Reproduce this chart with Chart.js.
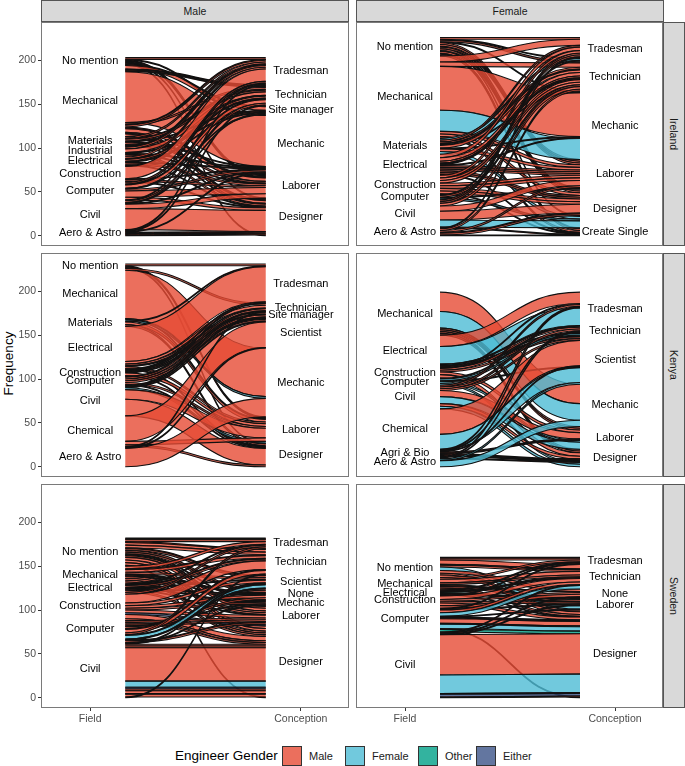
<!DOCTYPE html>
<html>
<head>
<meta charset="utf-8">
<script src="https://cdn.jsdelivr.net/npm/chart.js@4"></script>
<style>
  html, body { margin:0; padding:0; background:#fff; }
  body { width:685px; height:766px; position:relative; overflow:hidden; font-family:"Liberation Sans", Arial, sans-serif; }
  canvas { position:absolute; }
  .strip { position:absolute; box-sizing:border-box; background:#d9d9d9; border:1px solid #555; color:#1a1a1a; font-size:10.5px; display:flex; align-items:center; justify-content:center; }
  .strip.side { writing-mode:vertical-rl; }
  #ytitle { position:absolute; left:-42px; top:356px; width:100px; text-align:center; font-size:13.5px; transform:rotate(-90deg); color:#000; }
  .leg { position:absolute; top:749px; font-size:11px; color:#1a1a1a; line-height:14px; }
  .key { position:absolute; top:746px; width:20px; height:20px; box-sizing:border-box; border:1px solid #333; }
</style>
</head>
<body>
<div class="strip" style="left:41px;top:0;width:308px;height:22px">Male</div>
<div class="strip" style="left:356px;top:0;width:308px;height:22px">Female</div>
<div class="strip side" style="left:663px;top:22px;width:22px;height:224px">Ireland</div>
<div class="strip side" style="left:663px;top:253px;width:22px;height:224px">Kenya</div>
<div class="strip side" style="left:663px;top:484px;width:22px;height:224px">Sweden</div>
<div id="ytitle">Frequency</div>
<div class="leg" style="left:175px;top:748px;font-size:13.5px;color:#000;line-height:16px">Engineer Gender</div>
<div class="key" style="left:282px;background:rgba(230,75,53,.8)"></div><div class="leg" style="left:309px">Male</div>
<div class="key" style="left:345px;background:rgba(77,187,213,.8)"></div><div class="leg" style="left:372px">Female</div>
<div class="key" style="left:418px;background:rgba(0,160,135,.8)"></div><div class="leg" style="left:445px">Other</div>
<div class="key" style="left:476px;background:rgba(60,84,136,.8)"></div><div class="leg" style="left:503px">Either</div>

<script>
const axisNames = ['Field', 'Conception'];
const freqTicks = [0, 50, 100, 150, 200];
// gender index used in the flows: 0 male, 1 female, 2 other, 3 either
const genderColors = ['rgba(230,75,53,.8)', 'rgba(77,187,213,.8)', 'rgba(0,160,135,.8)', 'rgba(60,84,136,.8)'];

// flows are [field, conception, gender, frequency, optional order on the right]
// listed top to bottom as they leave the Field axis
const ieMaleFields = ['No mention','Mechanical','Materials','Industrial','Electrical','Construction','Computer','Civil','Aero & Astro'];
const ieMaleConceptions = ['Tradesman','Technician','Site manager','Mechanic','Laborer','Designer'];
const ieMaleFlows = [
  [0,0,0,2],[0,3,0,1],[0,4,0,1],[0,4,0,1],[0,4,0,1],[0,5,0,1],[0,5,0,1,99],
  [1,2,0,1],[1,2,0,4],[1,1,0,1],[1,1,0,1],[1,1,0,1],[1,3,0,58],[1,1,0,2],[1,0,0,1],[1,0,0,2],[1,4,0,1],[1,4,0,1],[1,4,0,4],[1,5,0,1],[1,5,0,1],[1,5,0,3],
  [2,0,0,2],[2,1,0,1],[2,1,0,2],[2,2,0,1],[2,3,0,1],[2,4,0,2],[2,5,0,1],
  [3,0,0,1],[3,0,0,1],[3,0,0,2],[3,1,0,4],[3,2,0,1],[3,3,0,1],[3,4,0,1],[3,5,0,2],
  [4,0,0,2],[4,1,0,1],[4,1,0,2],[4,2,0,1],[4,3,0,1],[4,4,0,2],[4,5,0,1],
  [5,1,0,1],[5,0,0,14],[5,3,0,1],[5,4,0,2],[5,5,0,1],
  [6,0,0,2],[6,1,0,1],[6,1,0,4],[6,2,1,1],[6,3,0,2],[6,4,0,7],[6,5,0,3],
  [7,0,0,1],[7,1,0,2],[7,2,0,1],[7,3,0,1],[7,4,0,5],[7,5,0,24],
  [8,0,0,1],[8,1,0,1],[8,3,0,1],[8,5,0,1],[8,5,0,1],[8,5,0,1],[8,5,0,1]
];

const ieFemaleFields = ['No mention','Mechanical','Materials','Electrical','Construction','Computer','Civil','Aero & Astro'];
const ieFemaleConceptions = ['Tradesman','Technician','Mechanic','Laborer','Designer','Create Single'];
const ieFemaleFlows = [
  [0,0,0,2],[0,0,1,1],[0,1,0,2],[0,1,1,1],[0,3,0,2],[0,3,0,2],[0,3,1,1],[0,3,0,2],[0,4,0,2],[0,4,1,1],[0,4,0,2],[0,5,0,1],[0,5,0,2],
  [1,0,0,7],[1,1,0,5],[1,2,0,50],[1,2,1,24],[1,3,0,3],[1,4,0,3],[1,5,0,2],
  [2,0,1,2],[2,0,0,2],[2,1,0,2],[2,1,0,1],[2,1,1,1],[2,1,0,3],[2,2,0,1],[2,3,0,3],[2,4,1,3],
  [3,0,0,4],[3,1,0,4],[3,1,0,2],[3,1,0,1],[3,1,0,1],[3,2,0,1],[3,3,0,2],[3,3,0,2],[3,3,0,2],[3,4,0,2],[3,4,0,2],[3,5,0,1],
  [4,0,0,3],[4,1,0,3],[4,1,0,3],[4,3,0,3],[4,3,0,3],[4,4,0,3],[4,4,0,3],[4,5,0,1],
  [5,0,1,1],[5,1,0,2],[5,3,1,1],[5,4,1,2],
  [6,0,0,2],[6,0,0,2],[6,1,0,3],[6,3,0,6],[6,4,0,10],[6,4,1,8],[6,5,0,1],
  [7,0,0,1],[7,1,0,2],[7,3,0,2],[7,4,0,1],[7,4,0,2],[7,5,0,1]
];

const keMaleFields = ['No mention','Mechanical','Materials','Electrical','Construction','Computer','Civil','Chemical','Aero & Astro'];
const keMaleConceptions = ['Tradesman','Technician','Site manager','Scientist','Mechanic','Laborer','Designer'];
const keMaleFlows = [
  [0,0,0,2],[0,5,0,1],[0,5,0,1],[0,6,0,1],
  [1,1,0,2],[1,4,0,55,0],[1,5,0,1],
  [2,4,1,2,1],[2,0,0,1],[2,5,0,3],[2,6,0,2],
  [3,0,0,40],[3,1,0,3],[3,2,0,2],[3,3,0,1],[3,5,0,2],[3,6,0,1],
  [4,0,0,1],[4,1,0,1],[4,2,0,1],[4,3,0,1],[4,5,0,3],[4,6,0,1],
  [5,0,0,1],[5,1,0,2],[5,2,0,2],[5,3,0,2],[5,5,0,2],[5,6,0,1],
  [6,1,0,1],[6,2,0,1],[6,3,0,1],[6,5,1,2],[6,5,0,11],[6,6,0,19],
  [7,3,0,29],[7,5,0,4],[7,6,0,2],
  [8,1,0,1],[8,3,0,1],[8,4,0,21,2]
];

const keFemaleFields = ['Mechanical','Electrical','Construction','Computer','Civil','Chemical','Agri & Bio','Aero & Astro'];
const keFemaleConceptions = ['Tradesman','Technician','Scientist','Mechanic','Laborer','Designer'];
const keFemaleFlows = [
  [0,3,0,22],[0,3,1,19],[0,4,0,2],[0,4,0,2],[0,5,0,2],[0,5,0,2],
  [1,0,0,13],[1,0,1,20],[1,1,0,1],[1,1,1,1],[1,2,0,1],[1,2,0,1],
  [2,0,0,1],[2,1,0,2],[2,2,0,2],[2,4,0,3],[2,5,0,4],
  [3,0,1,1],[3,1,1,2],[3,2,1,1],[3,4,1,2],[3,5,1,2],
  [4,0,0,2],[4,1,0,2],[4,2,0,2],[4,4,0,7],[4,4,1,8],[4,5,0,3],[4,5,1,3],
  [5,2,0,29],[5,2,1,17],
  [6,0,0,1],[6,1,0,1],[6,2,0,1],[6,4,0,1],[6,4,0,1],[6,5,0,1],[6,5,0,1],[6,5,0,1],
  [7,0,0,1],[7,1,0,1],[7,5,0,1],[7,2,1,2],[7,3,1,7]
];

const seMaleFields = ['No mention','Mechanical','Electrical','Construction','Computer','Civil'];
const seMaleConceptions = ['Tradesman','Technician','Scientist','None','Mechanic','Laborer','Designer'];
const seMaleFlows = [
  [0,0,0,1],[0,0,0,1],[0,0,0,2],[0,1,0,1],[0,1,0,3],[0,1,0,3],[0,2,0,1],[0,2,0,2],[0,3,0,2],[0,3,0,2],[0,4,0,1],[0,4,2,1],[0,5,0,2],[0,5,0,3],[0,6,0,3],[0,6,0,3],[0,6,0,1,99],
  [1,0,0,3],[1,1,0,1],[1,1,0,3],[1,2,0,2],[1,3,0,1],[1,3,0,1],[1,4,0,1],[1,5,0,2],[1,5,0,2],[1,6,0,2],[1,6,0,2],
  [2,0,0,1],[2,1,0,1],[2,1,0,2],[2,2,0,1],[2,3,0,1],[2,4,0,1],[2,5,0,1],[2,6,0,2],
  [3,0,0,2],[3,1,0,10],[3,2,0,3],[3,3,0,3],[3,4,0,2],[3,5,0,3],[3,5,3,2],[3,6,0,5],
  [4,6,0,2],[4,5,0,2],[4,6,0,2],[4,5,0,2],[4,4,0,1],[4,3,0,2],[4,1,0,1],[4,1,0,4],[4,0,0,2],[4,2,0,1],[4,2,1,4],[4,2,3,1],
  [5,5,0,1],[5,5,0,2],[5,4,0,1],[5,2,0,1],[5,6,0,2,0],[5,6,0,2,0],[5,6,0,38,0],[5,6,1,7,0],[5,6,3,2,0],[5,6,0,2,0],[5,6,0,3,0],[5,6,3,1,0],[5,6,0,3,0],[5,1,0,1]
];

const seFemaleFields = ['No mention','Mechanical','Electrical','Construction','Computer','Civil'];
const seFemaleConceptions = ['Tradesman','Technician','None','Laborer','Designer'];
const seFemaleFlows = [
  [0,0,0,1],[0,0,0,2],[0,1,0,5],[0,1,0,1],[0,1,0,2],[0,3,1,4],[0,2,0,3],[0,4,0,2],[0,4,0,3],
  [1,0,0,2],[1,1,0,4],[1,1,0,2],[1,2,2,1],[1,2,0,1],[1,3,0,2],[1,4,0,2],
  [2,0,0,1],[2,1,0,1],[2,1,0,1],[2,2,2,1],[2,3,0,1],[2,4,0,1],
  [3,0,0,1],[3,1,0,4],[3,2,0,2],[3,3,0,2],[3,4,0,3],
  [4,2,0,3],[4,0,0,1],[4,3,0,1],[4,1,0,3],[4,1,1,4],[4,3,3,1],[4,4,3,1,0],[4,4,0,1,0],[4,4,0,5,0],[4,4,0,1,0],[4,4,1,5,0],[4,4,0,1,99],[4,4,2,3,0],
  [5,1,0,1],[5,2,0,1],[5,3,0,1],[5,4,0,46,0],[5,4,1,21,0],[5,4,3,1,0],[5,4,3,3,0],[5,4,0,1,0]
];

// stack the lodes on both axes, ggalluvial style, from the frequencies
function stackFlows(fields, conceptions, flows) {
  const total = flows.reduce((s, r) => s + r[3], 0);
  const rows = flows.map((r, i) => ({ f:r[0], c:r[1], g:r[2], n:r[3], key:r[4] === undefined ? r[2] : r[4], i:i }));
  const fieldMid = [], concMid = [];
  let y = total;
  fields.forEach((name, f) => {
    const start = y;
    rows.filter(r => r.f === f).forEach(r => { r.left = y; y -= r.n; });
    fieldMid.push((start + y) / 2);
  });
  y = total;
  conceptions.forEach((name, c) => {
    const start = y;
    rows.filter(r => r.c === c).sort((a, b) => a.key - b.key || a.i - b.i).forEach(r => { r.right = y; y -= r.n; });
    concMid.push((start + y) / 2);
  });
  return { rows, fieldMid, concMid };
}

const halfStratum = 1 / 6;

const alluvialPlugin = {
  id: 'alluvial',
  afterDatasetsDraw(chart) {
    const { ctx, scales, chartArea } = chart;
    const sx = scales.x, sy = scales.y;
    const cfg = chart.options.plugins.alluvial;
    ctx.save();
    chart.data.datasets.forEach(ds => {
      const x0 = sx.getPixelForValue(ds.data[0].x), x1 = sx.getPixelForValue(ds.data[1].x);
      const xm = (x0 + x1) / 2;
      const t0 = sy.getPixelForValue(ds.data[0].y), t1 = sy.getPixelForValue(ds.data[1].y);
      const b0 = sy.getPixelForValue(ds.data[0].y - ds.thickness), b1 = sy.getPixelForValue(ds.data[1].y - ds.thickness);
      ctx.beginPath();
      ctx.moveTo(x0, t0);
      ctx.bezierCurveTo(xm, t0, xm, t1, x1, t1);
      ctx.lineTo(x1, b1);
      ctx.bezierCurveTo(xm, b1, xm, b0, x0, b0);
      ctx.closePath();
      ctx.fillStyle = ds.backgroundColor;
      ctx.fill();
      ctx.lineWidth = 1.1;
      ctx.strokeStyle = '#111';
      // sides stay open, only top and bottom edges are outlined
      ctx.beginPath();
      ctx.moveTo(x0, t0);
      ctx.bezierCurveTo(xm, t0, xm, t1, x1, t1);
      ctx.moveTo(x1, b1);
      ctx.bezierCurveTo(xm, b1, xm, b0, x0, b0);
      ctx.stroke();
    });
    ctx.fillStyle = '#000';
    ctx.font = '11px "Liberation Sans", Arial, sans-serif';
    ctx.textAlign = 'center';
    ctx.textBaseline = 'middle';
    cfg.fields.forEach((name, i) => ctx.fillText(name, sx.getPixelForValue(1), sy.getPixelForValue(cfg.fieldMid[i])));
    cfg.conceptions.forEach((name, i) => ctx.fillText(name, sx.getPixelForValue(2), sy.getPixelForValue(cfg.concMid[i])));
    ctx.strokeStyle = '#7a7a7a';
    ctx.lineWidth = 1;
    ctx.strokeRect(chartArea.left + 0.5, chartArea.top + 0.5, chartArea.width - 1, chartArea.height - 1);
    ctx.restore();
  }
};

function drawPanel(fields, conceptions, flows, left, top, showY, showX) {
  const canvas = document.createElement('canvas');
  const h = showX ? 248 : 226;
  const width = showY ? 350 : 309;
  canvas.width = width; canvas.height = h;
  canvas.style.left = left + 'px';
  canvas.style.top = top + 'px';
  canvas.style.width = width + 'px';
  canvas.style.height = h + 'px';
  document.body.appendChild(canvas);
  const stacked = stackFlows(fields, conceptions, flows);
  new Chart(canvas, {
    type: 'scatter',
    data: {
      datasets: stacked.rows.map(r => ({
        data: [{ x: 1 + halfStratum, y: r.left }, { x: 2 - halfStratum, y: r.right }],
        thickness: r.n,
        backgroundColor: genderColors[r.g],
        showLine: false,
        pointRadius: 0
      }))
    },
    options: {
      responsive: false,
      animation: false,
      layout: { padding: { left: showY ? 0 : 1, right: 1, top: 1, bottom: showX ? 0 : 1 } },
      plugins: {
        legend: { display: false },
        tooltip: { enabled: false },
        alluvial: { fields, conceptions, fieldMid: stacked.fieldMid, concMid: stacked.concMid }
      },
      scales: {
        x: {
          type: 'linear', min: 1 - 49 / 210, max: 1 - 49 / 210 + 307 / 210,
          display: showX,
          grid: { drawOnChartArea: false, drawTicks: true, tickLength: 3, color: '#333' },
          border: { display: false },
          afterBuildTicks: s => { s.ticks = [{ value: 1 }, { value: 2 }]; },
          afterFit: s => { s.height = showX ? 23 : 0; s.paddingLeft = 0; s.paddingRight = 0; },
          ticks: { autoSkip: false, maxRotation: 0, padding: 2, color: '#4d4d4d', font: { size: 10.5, family: '"Liberation Sans", Arial, sans-serif' }, callback: v => axisNames[v - 1] }
        },
        y: {
          min: -11.6, max: 243.6,
          display: showY,
          grid: { drawOnChartArea: false, drawTicks: true, tickLength: 3, color: '#333' },
          border: { display: false },
          afterBuildTicks: s => { s.ticks = freqTicks.map(v => ({ value: v })); },
          afterFit: s => { s.width = showY ? 41 : 0; s.paddingTop = 0; s.paddingBottom = 0; },
          ticks: { padding: 2, color: '#4d4d4d', font: { size: 10.5, family: '"Liberation Sans", Arial, sans-serif' } }
        }
      }
    },
    plugins: [alluvialPlugin]
  });
}

drawPanel(ieMaleFields, ieMaleConceptions, ieMaleFlows, 0, 21, true, false);
drawPanel(ieFemaleFields, ieFemaleConceptions, ieFemaleFlows, 355, 21, false, false);
drawPanel(keMaleFields, keMaleConceptions, keMaleFlows, 0, 252, true, false);
drawPanel(keFemaleFields, keFemaleConceptions, keFemaleFlows, 355, 252, false, false);
drawPanel(seMaleFields, seMaleConceptions, seMaleFlows, 0, 483, true, true);
drawPanel(seFemaleFields, seFemaleConceptions, seFemaleFlows, 355, 483, false, true);
</script>
</body>
</html>
